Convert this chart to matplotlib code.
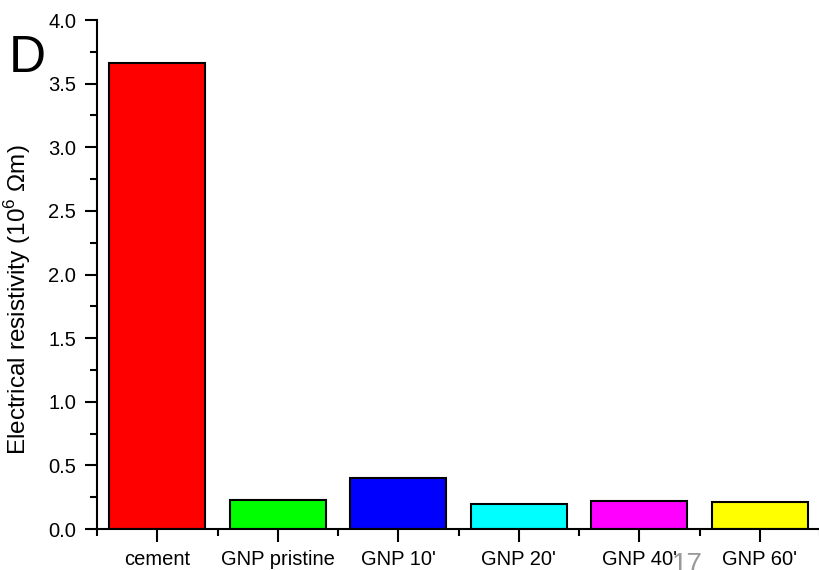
import matplotlib
matplotlib.use("Agg")
import matplotlib.pyplot as plt
import numpy as np
from matplotlib.ticker import MultipleLocator, FixedLocator

plt.rcParams['font.family'] = ['Liberation Sans', 'DejaVu Sans']
plt.rcParams['mathtext.fontset'] = 'custom'
plt.rcParams['mathtext.rm'] = 'Liberation Sans'

samples = ['cement', 'GNP pristine', "GNP 10'", "GNP 20'", "GNP 40'", "GNP 60'"]
resistivity = [3.66, 0.23, 0.40, 0.20, 0.22, 0.21]
colors = ['#ff0000', '#00ff00', '#0000ff', '#00ffff', '#ff00ff', '#ffff00']

fig = plt.figure(figsize=(8.2, 5.7), dpi=100)
ax = fig.add_axes([0.1183, 0.0719, 0.8817, 0.893])

x = np.arange(len(samples))
ax.bar(x, resistivity, width=0.8, color=colors, edgecolor='black', linewidth=1.5)

ax.set_xlim(-0.5, 5.5)
ax.set_ylim(0, 4.0)
ax.set_xticks(x)
ax.set_xticklabels(samples, fontsize=14.5)
ax.xaxis.set_minor_locator(FixedLocator(np.arange(-0.5, 6.0, 1.0)))
ax.yaxis.set_major_locator(MultipleLocator(0.5))
ax.yaxis.set_minor_locator(MultipleLocator(0.25))
ax.yaxis.set_major_formatter(plt.FormatStrFormatter('%.1f'))
ax.tick_params(axis='y', labelsize=14.5)

ax.tick_params(which='major', direction='out', length=9, width=1.5, pad=6)
ax.tick_params(which='minor', direction='out', length=5, width=1.5)

for side in ['top', 'right']:
    ax.spines[side].set_visible(False)
for side in ['left', 'bottom']:
    ax.spines[side].set_linewidth(1.5)

ax.set_ylabel(r'Electrical resistivity (10$^{6}$ $\Omega$m)', fontsize=17.5)
ax.yaxis.set_label_coords(-0.089, 0.45)

# panel letter and slide number
fig.text(0.011, 1 - 72 / 570, 'D', fontsize=37, ha='left', va='baseline')
fig.text(0.838, -0.004, '17', fontsize=20, color='#999999', ha='center', va='baseline')

fig.savefig('out.png', dpi=100)
